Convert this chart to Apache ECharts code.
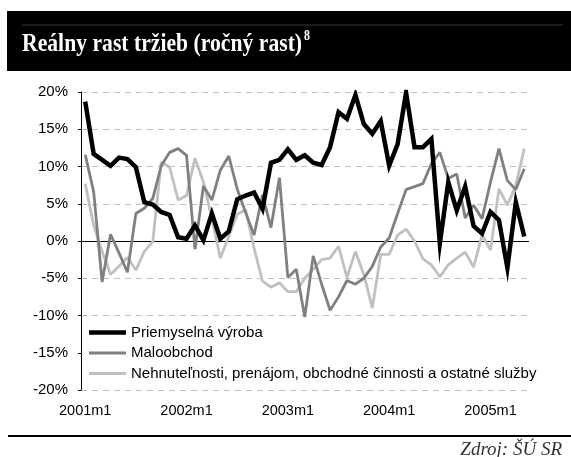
<!DOCTYPE html>
<html>
<head>
<meta charset="utf-8">
<script src="https://cdn.jsdelivr.net/npm/echarts@6/dist/echarts.min.js"></script>
<style>
html,body{margin:0;padding:0;background:#fff;}
#c{width:571px;height:457px;}
</style>
</head>
<body>
<div id="c"></div>
<script>
// Categories: monthly, 2001m1 .. 2005m5
const years = [2001, 2002, 2003, 2004, 2005];
const categories = [];
years.forEach(y => { for (let m = 1; m <= 12; m++) { if (y === 2005 && m > 5) break; categories.push(y + 'm' + m); } });

const seriesNames = [
  'Priemyselná výroba',
  'Maloobchod',
  'Nehnuteľnosti, prenájom, obchodné činnosti a ostatné služby'
];

const priemysel = [
  18.7, 11.7, 10.9, 10.1, 11.2, 11.0, 9.9, 5.2, 4.9, 3.9, 3.5, 0.5,
  0.3, 2.1, 0.1, 3.7, 0.3, 1.3, 5.6, 6.1, 6.5, 4.3, 10.5, 10.9,
  12.3, 10.9, 11.5, 10.5, 10.2, 12.6, 17.3, 16.4, 19.6, 15.7, 14.4, 16.1,
  10.1, 13.0, 19.9, 12.6, 12.6, 13.7, -0.3, 7.9, 4.1, 7.3, 2.0, 1.0,
  3.9, 2.8, -3.6, 5.2, 0.6
];

const maloobchod = [
  11.6, 6.6, -5.5, 0.9, -1.6, -4.2, 3.7, 4.4, 5.7, 10.1, 11.9, 12.4,
  11.5, -1.1, 7.4, 5.5, 9.5, 11.4, 7.0, 3.8, 0.8, 6.2, 1.8, 8.5,
  -4.9, -3.8, -10.2, -2.0, -5.8, -9.3, -7.5, -5.3, -5.8, -5.0, -3.4, -0.8,
  0.4, 3.7, 6.9, 7.3, 7.7, 10.4, 11.9, 8.4, 9.0, 3.1, 4.8, 3.0,
  7.9, 12.4, 8.1, 6.9, 9.7
];

const nehnutelnosti = [
  7.7, 2.1, -1.4, -4.5, -3.4, -2.2, -3.9, -1.4, -0.1, 10.6, 9.9, 5.5,
  6.1, 11.1, 7.9, 3.0, -2.3, 0.6, 3.6, 4.2, -1.0, -5.4, -6.2, -5.6,
  -6.8, -6.8, -5.0, -3.8, -2.5, -2.3, -0.7, -4.9, -1.4, -4.5, -9.0, -1.8,
  -1.8, 0.8, 1.6, 0.0, -2.4, -3.2, -4.8, -3.2, -2.3, -1.5, -3.5, 0.8,
  -1.2, 7.0, 4.8, 7.5, 12.4
];

const titleText = 'Reálny rast tržieb (ročný rast)';
const titleSup = '8';
const sourceText = 'Zdroj: ŠÚ SR';

const chart = echarts.init(document.getElementById('c'), null, {renderer: 'canvas'});

chart.setOption({
  animation: false,
  backgroundColor: '#fff',
  grid: {left: 81, right: 42.5, top: 92, bottom: 67, containLabel: false},
  xAxis: {
    type: 'category',
    data: categories,
    boundaryGap: true,
    axisLine: {lineStyle: {color: '#000', width: 1}},
    axisTick: {interval: 2, length: 3, lineStyle: {color: '#000'}},
    axisLabel: {
      interval: 11, margin: 13, color: '#000',
      fontFamily: 'Liberation Sans, Arial', fontSize: 14.5
    },
    splitLine: {show: false}
  },
  yAxis: {
    type: 'value',
    min: -20, max: 20, interval: 5,
    axisLine: {show: true, lineStyle: {color: '#000', width: 1}},
    axisTick: {show: true, length: 3, lineStyle: {color: '#000'}},
    axisLabel: {
      formatter: '{value}%', margin: 13, color: '#000',
      fontFamily: 'Liberation Sans, Arial', fontSize: 15
    },
    splitLine: {show: true, lineStyle: {color: '#c0c0c0', width: 1, type: [6, 5]}}
  },
  legend: {
    orient: 'vertical',
    left: 83, top: 321,
    data: [
      {name: seriesNames[0], icon: 'path://M0,0H37V4.5H0Z'},
      {name: seriesNames[1], icon: 'path://M0,0H37V3H0Z'},
      {name: seriesNames[2], icon: 'path://M0,0H37V3H0Z'}
    ],
    itemWidth: 37, itemHeight: 14, itemGap: 5.5,
    padding: [4, 8, 4, 6],
    backgroundColor: '#fff',
    textStyle: {color: '#000', fontFamily: 'Liberation Sans, Arial', fontSize: 15},
    selectedMode: false
  },
  series: [
    {name: seriesNames[0], type: 'line', data: priemysel, symbol: 'none', z: 4,
     lineStyle: {color: '#000', width: 4.5, join: 'miter'}, itemStyle: {color: '#000'}},
    {name: seriesNames[1], type: 'line', data: maloobchod, symbol: 'none', z: 3,
     lineStyle: {color: '#808080', width: 2.8}, itemStyle: {color: '#808080'}},
    {name: seriesNames[2], type: 'line', data: nehnutelnosti, symbol: 'none', z: 2,
     lineStyle: {color: '#c0c0c0', width: 2.8}, itemStyle: {color: '#c0c0c0'}}
  ],
  graphic: [
    {type: 'rect', left: 7, top: 11, z: 10, shape: {width: 564, height: 60}, style: {fill: '#000'}},
    {type: 'line', z: 11, shape: {x1: 22, y1: 25, x2: 563, y2: 25}, style: {stroke: '#3a3a3a', lineWidth: 1}},
    {type: 'text', z: 12, x: 22, y: 44, scaleX: 0.85,
     style: {text: titleText, fill: '#fff', font: 'bold 25.5px "Liberation Serif", serif', verticalAlign: 'middle', align: 'left'}},
    {type: 'text', z: 12, x: 304, y: 36, scaleX: 0.85,
     style: {text: titleSup, fill: '#fff', font: 'bold 14px "Liberation Serif", serif', verticalAlign: 'middle', align: 'left'}},
    {type: 'rect', z: 10, left: 8, top: 435, shape: {width: 563, height: 2}, style: {fill: '#000'}},
    {type: 'text', z: 12, x: 562, y: 450,
     style: {text: sourceText, fill: '#333', font: 'italic 19px "Liberation Serif", serif', verticalAlign: 'middle', align: 'right'}}
  ]
});
</script>
</body>
</html>
